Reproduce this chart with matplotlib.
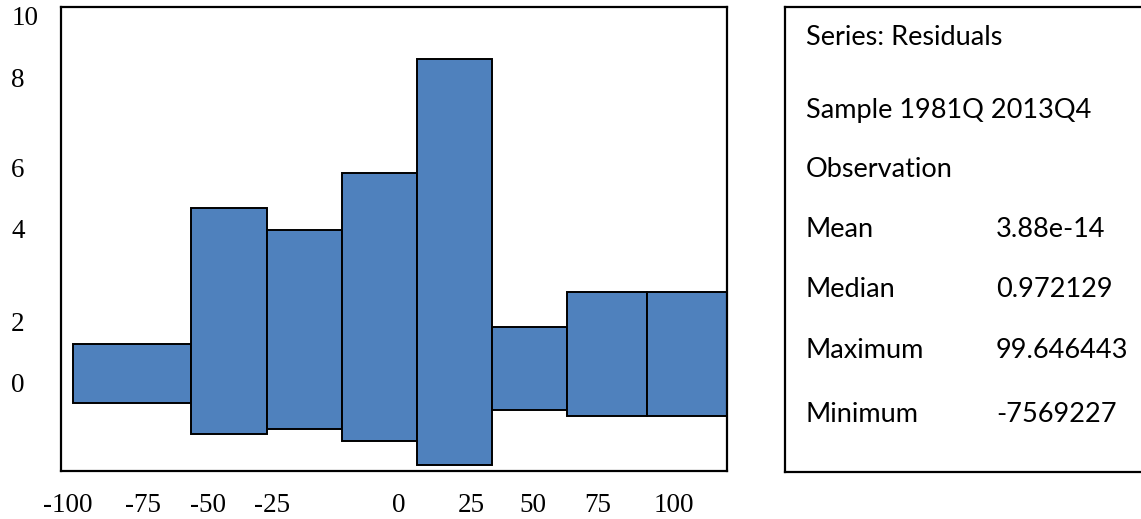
import matplotlib
matplotlib.use("Agg")
import matplotlib.pyplot as plt

# ---- data (axis units) ----
bar_left = [-120.2, -76.0, -47.7, -19.5, 8.8, 37.0, 65.0, 94.9]
bar_right = [-76.0, -47.7, -19.5, 8.8, 37.0, 65.0, 94.9, 125.0]
bar_bottom = [-0.57, -1.40, -1.26, -1.59, -2.24, -0.75, -0.91, -0.90]
bar_top = [1.05, 4.74, 4.16, 5.70, 8.81, 1.51, 2.46, 2.46]

x_tick_pos = [-122.1, -94.2, -69.7, -45.7, 2.0, 29.2, 52.0, 76.4, 104.9]
x_tick_labels = ["-100", "-75", "-50", "-25", "0", "25", "50", "75", "100"]
y_tick_pos = [10.0, 8.31, 5.84, 4.18, 1.65, 0.0]
y_tick_labels = ["10", "8", "6", "4", "2", "0"]

header_lines = ["Series: Residuals", "Sample 1981Q 2013Q4", "Observation"]
stat_names = ["Mean", "Median", "Maximum", "Minimum"]
stat_values = ["3.88e-14", "0.972129", "99.646443", "-7569227"]

W, H = 1141, 519
fig = plt.figure(figsize=(W / 100, H / 100), dpi=100)

def fx(px):
    return px / W

def fy(py):
    return 1 - py / H

# ---- histogram panel ----
ax = fig.add_axes([fx(60.5), fy(471), (727 - 60.5) / W, (471 - 7) / H])
widths = [r - l for l, r in zip(bar_left, bar_right)]
heights = [t - b for t, b in zip(bar_top, bar_bottom)]
ax.bar(bar_left, heights, width=widths, bottom=bar_bottom, align="edge",
       color="#4F81BD", edgecolor="black", linewidth=1.4, zorder=2)
ax.set_xlim(-125, 125)
ax.set_ylim(-2.41, 10.22)
for s in ax.spines.values():
    s.set_linewidth(1.6)
    s.set_color("black")

serif = ["Liberation Serif", "DejaVu Serif"]
ax.set_xticks(x_tick_pos)
ax.set_xticklabels(x_tick_labels, fontfamily=serif, fontsize=19.5)
ax.set_yticks(y_tick_pos)
ax.set_yticklabels(y_tick_labels, fontfamily=serif, fontsize=19.5)
ax.tick_params(axis="x", length=0, pad=16)
ax.tick_params(axis="y", length=0, pad=35.5)
for lbl in ax.get_yticklabels():
    lbl.set_horizontalalignment("left")

# ---- statistics panel ----
ax2 = fig.add_axes([fx(785), fy(471.5), (1160 - 785) / W, (471.5 - 7) / H])
ax2.set_xticks([])
ax2.set_yticks([])
for s in ax2.spines.values():
    s.set_linewidth(1.6)
    s.set_color("black")

sans = ["Lato", "DejaVu Sans"]
fs = 19.5
baselines = [45, 118, 177, 237, 297, 358, 422]
for i, t in enumerate(header_lines):
    fig.text(fx(806), fy(baselines[i]), t, fontfamily=sans, fontsize=fs,
             va="baseline", ha="left")
for j, (n, v) in enumerate(zip(stat_names, stat_values)):
    yb = baselines[len(header_lines) + j]
    fig.text(fx(806), fy(yb), n, fontfamily=sans, fontsize=fs,
             va="baseline", ha="left")
    fig.text(fx(996), fy(yb), v, fontfamily=sans, fontsize=fs,
             va="baseline", ha="left")

fig.savefig("out.png", dpi=100)
